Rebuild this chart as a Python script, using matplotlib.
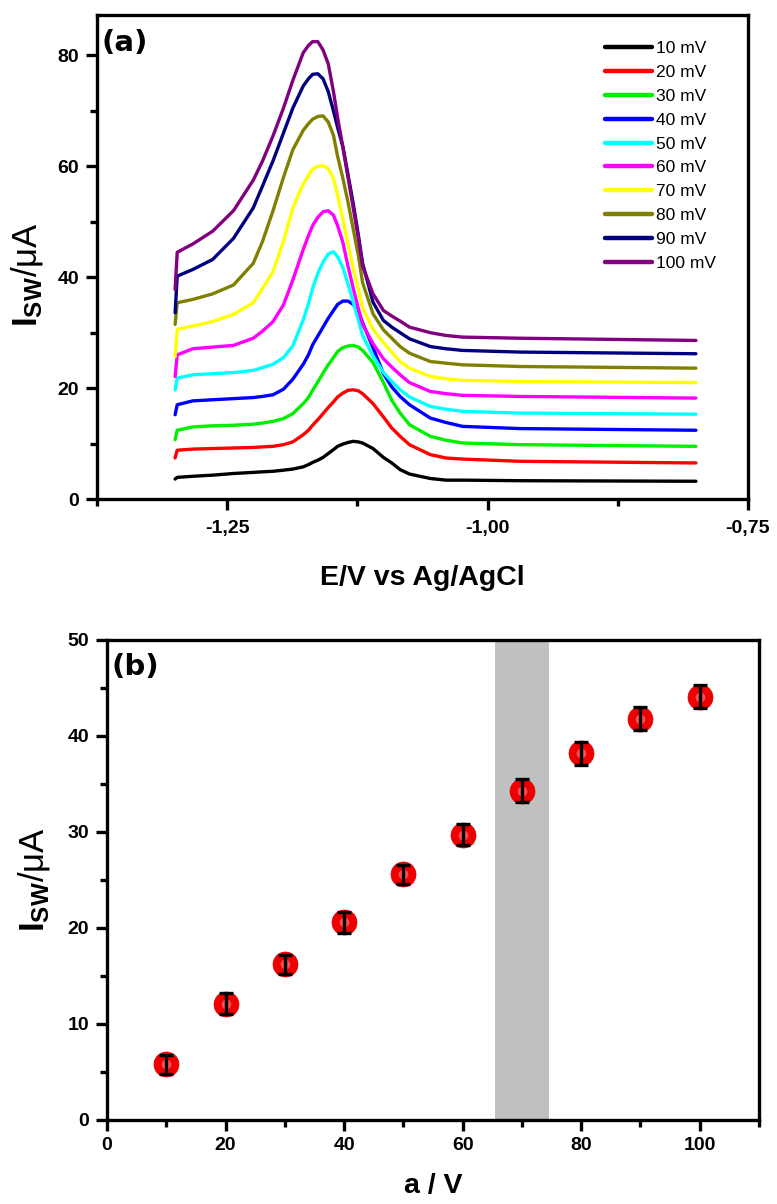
import matplotlib
matplotlib.use("Agg")
import matplotlib.pyplot as plt
from matplotlib.ticker import MultipleLocator, FuncFormatter

plt.rcParams['font.family'] = ['Liberation Sans', 'DejaVu Sans']
plt.rcParams['mathtext.fontset'] = 'custom'
plt.rcParams['mathtext.rm'] = 'Liberation Sans'
plt.rcParams['mathtext.bf'] = 'Liberation Sans:bold'
plt.rcParams['mathtext.it'] = 'Liberation Sans:italic'

# ---------------- Panel (a) data ----------------
potential = [-1.300, -1.298, -1.283, -1.264, -1.244, -1.225, -1.216, -1.206, -1.196,
             -1.187, -1.177, -1.172, -1.168, -1.163, -1.158, -1.153, -1.148, -1.144,
             -1.139, -1.134, -1.129, -1.124, -1.120, -1.110, -1.100, -1.092, -1.084,
             -1.075, -1.055, -1.040, -1.024, -0.969, -0.800]

i_10 = [3.6, 3.9, 4.1, 4.3, 4.6, 4.8, 4.9, 5.0, 5.2, 5.4, 5.8, 6.2, 6.6, 7.0, 7.5, 8.2,
        8.9, 9.5, 9.9, 10.2, 10.4, 10.3, 10.1, 9.1, 7.5, 6.5, 5.3, 4.5, 3.7, 3.4, 3.4,
        3.3, 3.2]
i_20 = [7.4, 8.8, 9.0, 9.1, 9.2, 9.3, 9.4, 9.5, 9.8, 10.3, 11.6, 12.4, 13.3, 14.3, 15.4,
        16.5, 17.5, 18.4, 19.1, 19.6, 19.7, 19.5, 19.0, 17.2, 14.8, 12.8, 11.3, 9.8, 8.0,
        7.4, 7.2, 6.8, 6.5]
i_30 = [10.7, 12.4, 13.0, 13.2, 13.3, 13.5, 13.7, 14.0, 14.5, 15.4, 17.2, 18.3, 19.6,
        21.1, 22.7, 24.2, 25.5, 26.6, 27.3, 27.6, 27.7, 27.4, 26.8, 24.6, 21.0, 17.8,
        15.5, 13.4, 11.3, 10.6, 10.1, 9.8, 9.5]
i_40 = [15.2, 17.0, 17.7, 17.9, 18.1, 18.3, 18.5, 18.8, 19.8, 21.6, 24.3, 26.0, 27.8,
        29.4, 31.0, 32.6, 34.0, 35.1, 35.7, 35.7, 35.1, 33.8, 31.8, 27.3, 22.6, 20.2,
        18.5, 17.0, 14.6, 13.8, 13.1, 12.7, 12.4]
i_50 = [19.7, 21.8, 22.4, 22.6, 22.8, 23.2, 23.7, 24.3, 25.5, 27.6, 32.3, 35.2, 38.0,
        40.7, 42.7, 44.2, 44.6, 43.7, 41.8, 38.8, 35.5, 32.2, 29.5, 25.8, 22.8, 21.2,
        19.7, 18.4, 16.7, 16.2, 15.8, 15.5, 15.3]
i_60 = [22.1, 26.0, 27.1, 27.4, 27.7, 29.0, 30.3, 32.0, 35.0, 39.5, 45.0, 47.5, 49.3,
        50.8, 51.8, 52.0, 51.2, 49.3, 46.3, 42.0, 38.0, 34.3, 31.5, 28.0, 25.3, 23.8,
        22.4, 21.0, 19.4, 19.0, 18.7, 18.5, 18.2]
i_70 = [25.7, 30.6, 31.2, 32.0, 33.3, 35.4, 38.0, 41.0, 46.5, 52.5, 56.8, 58.3, 59.5,
        60.0, 60.1, 59.6, 57.8, 54.8, 50.5, 46.0, 41.6, 37.8, 34.5, 30.6, 28.2, 26.5,
        24.8, 23.6, 22.1, 21.7, 21.4, 21.2, 21.0]
i_80 = [31.5, 35.4, 36.0, 37.0, 38.6, 42.5, 46.5, 52.0, 58.0, 63.0, 66.5, 67.7, 68.5,
        69.0, 69.1, 68.0, 65.6, 61.8, 57.9, 53.5, 48.7, 43.8, 39.0, 33.4, 30.5, 29.0,
        27.5, 26.3, 24.8, 24.5, 24.2, 23.9, 23.6]
i_90 = [33.6, 40.2, 41.4, 43.2, 47.0, 52.5, 56.5, 61.0, 66.0, 70.5, 74.5, 75.8, 76.6,
        76.7, 75.8, 73.5, 70.0, 67.0, 63.6, 58.5, 53.3, 47.5, 42.5, 35.5, 32.2, 31.0,
        30.0, 28.9, 27.5, 27.1, 26.8, 26.5, 26.2]
i_100 = [37.8, 44.5, 46.0, 48.3, 52.0, 57.5, 61.0, 65.5, 70.5, 75.5, 80.5, 81.8, 82.5,
         82.5, 81.0, 78.5, 73.5, 68.8, 63.5, 58.0, 52.5, 47.0, 42.0, 37.0, 34.0, 33.0,
         32.1, 31.0, 30.0, 29.5, 29.2, 29.0, 28.6]

curve_labels = ['10 mV', '20 mV', '30 mV', '40 mV', '50 mV',
                '60 mV', '70 mV', '80 mV', '90 mV', '100 mV']
curve_colors = ['#000000', '#ff0000', '#00ee00', '#0000ff', '#00ffff',
                '#ff00ff', '#ffff00', '#808000', '#000080', '#800080']
curves = [i_10, i_20, i_30, i_40, i_50, i_60, i_70, i_80, i_90, i_100]

# ---------------- Panel (b) data ----------------
amplitude = [10, 20, 30, 40, 50, 60, 70, 80, 90, 100]
i_peak = [5.8, 12.1, 16.2, 20.6, 25.6, 29.7, 34.3, 38.2, 41.8, 44.1]
i_err = [1.0, 1.1, 1.0, 1.1, 1.0, 1.1, 1.2, 1.2, 1.2, 1.2]
band = (65.5, 74.5)

W, H = 777, 1204
fig = plt.figure(figsize=(W / 100, H / 100), dpi=100)

def px_axes(l, t, r, b):
    return fig.add_axes([l / W, 1 - b / H, (r - l) / W, (b - t) / H])

def style_axes(ax, xpad):
    for s in ax.spines.values():
        s.set_linewidth(2.4)
    ax.tick_params(which='major', direction='out', length=8, width=2.4,
                   labelsize=14, pad=5, top=False, right=False)
    ax.tick_params(axis='x', which='major', pad=xpad)
    ax.tick_params(which='minor', direction='out', length=5, width=2.4,
                   top=False, right=False)
    for lab in ax.get_xticklabels() + ax.get_yticklabels():
        lab.set_fontweight('bold')

ylab = r'$\mathbf{I}_{\mathbf{SW}}$/μA'

# ---- Panel a ----
ax1 = px_axes(97, 15, 748, 499)
for y, c, lab in zip(curves, curve_colors, curve_labels):
    ax1.plot(potential, y, color=c, lw=2.4, label=lab,
             solid_capstyle='round', solid_joinstyle='round')
ax1.set_xlim(-1.375, -0.75)
ax1.set_ylim(0, 87.3)
ax1.xaxis.set_major_locator(MultipleLocator(0.25))
ax1.xaxis.set_minor_locator(MultipleLocator(0.125))
ax1.yaxis.set_major_locator(MultipleLocator(20))
ax1.yaxis.set_minor_locator(MultipleLocator(10))
ax1.xaxis.set_major_formatter(FuncFormatter(lambda v, p: f"{v:.2f}".replace('.', ',')))
style_axes(ax1, 7)
ax1.set_xlabel('E/V vs Ag/AgCl', fontsize=20.5, fontweight='bold', labelpad=20)
ax1.set_ylabel(ylab, fontsize=25)
ax1.yaxis.set_label_coords(-0.080, 0.463)
ax1.text(0.007, 0.972, '(a)', transform=ax1.transAxes, fontsize=21,
         fontweight='bold', va='top', ha='left', family='DejaVu Sans')
leg = ax1.legend(loc='upper left', bbox_to_anchor=(0.780, 0.946), frameon=False,
                 fontsize=12.5, handlelength=2.7, handletextpad=0.23,
                 labelspacing=0.5, borderaxespad=0.0, borderpad=0.0)
for ln in leg.get_lines():
    ln.set_linewidth(3.2)

# ---- Panel b ----
ax2 = px_axes(107, 640, 759, 1120)
ax2.axvspan(band[0], band[1], color='#c0c0c0', lw=0, zorder=0)
ax2.plot(amplitude, i_peak, 'o', ms=18, mfc='#ee0000', mec='#dd0000', mew=0.5, zorder=3)
ax2.plot(amplitude, i_peak, 'o', ms=7, mfc='#ff9090', mec='none', alpha=0.55, zorder=3.5)
ax2.errorbar(amplitude, i_peak, yerr=i_err, fmt='none', ecolor='black',
             elinewidth=2.4, capsize=5, capthick=2.4, zorder=4)
ax2.set_xlim(0, 110)
ax2.set_ylim(0, 50)
ax2.xaxis.set_major_locator(MultipleLocator(20))
ax2.xaxis.set_minor_locator(MultipleLocator(10))
ax2.yaxis.set_major_locator(MultipleLocator(10))
ax2.yaxis.set_minor_locator(MultipleLocator(5))
style_axes(ax2, 4)
ax2.set_xlabel('a / V', fontsize=20.5, fontweight='bold', labelpad=14)
ax2.set_ylabel(ylab, fontsize=25)
ax2.yaxis.set_label_coords(-0.084, 0.5)
ax2.text(0.007, 0.972, '(b)', transform=ax2.transAxes, fontsize=21,
         fontweight='bold', va='top', ha='left', family='DejaVu Sans')

fig.savefig('out.png', dpi=100)
